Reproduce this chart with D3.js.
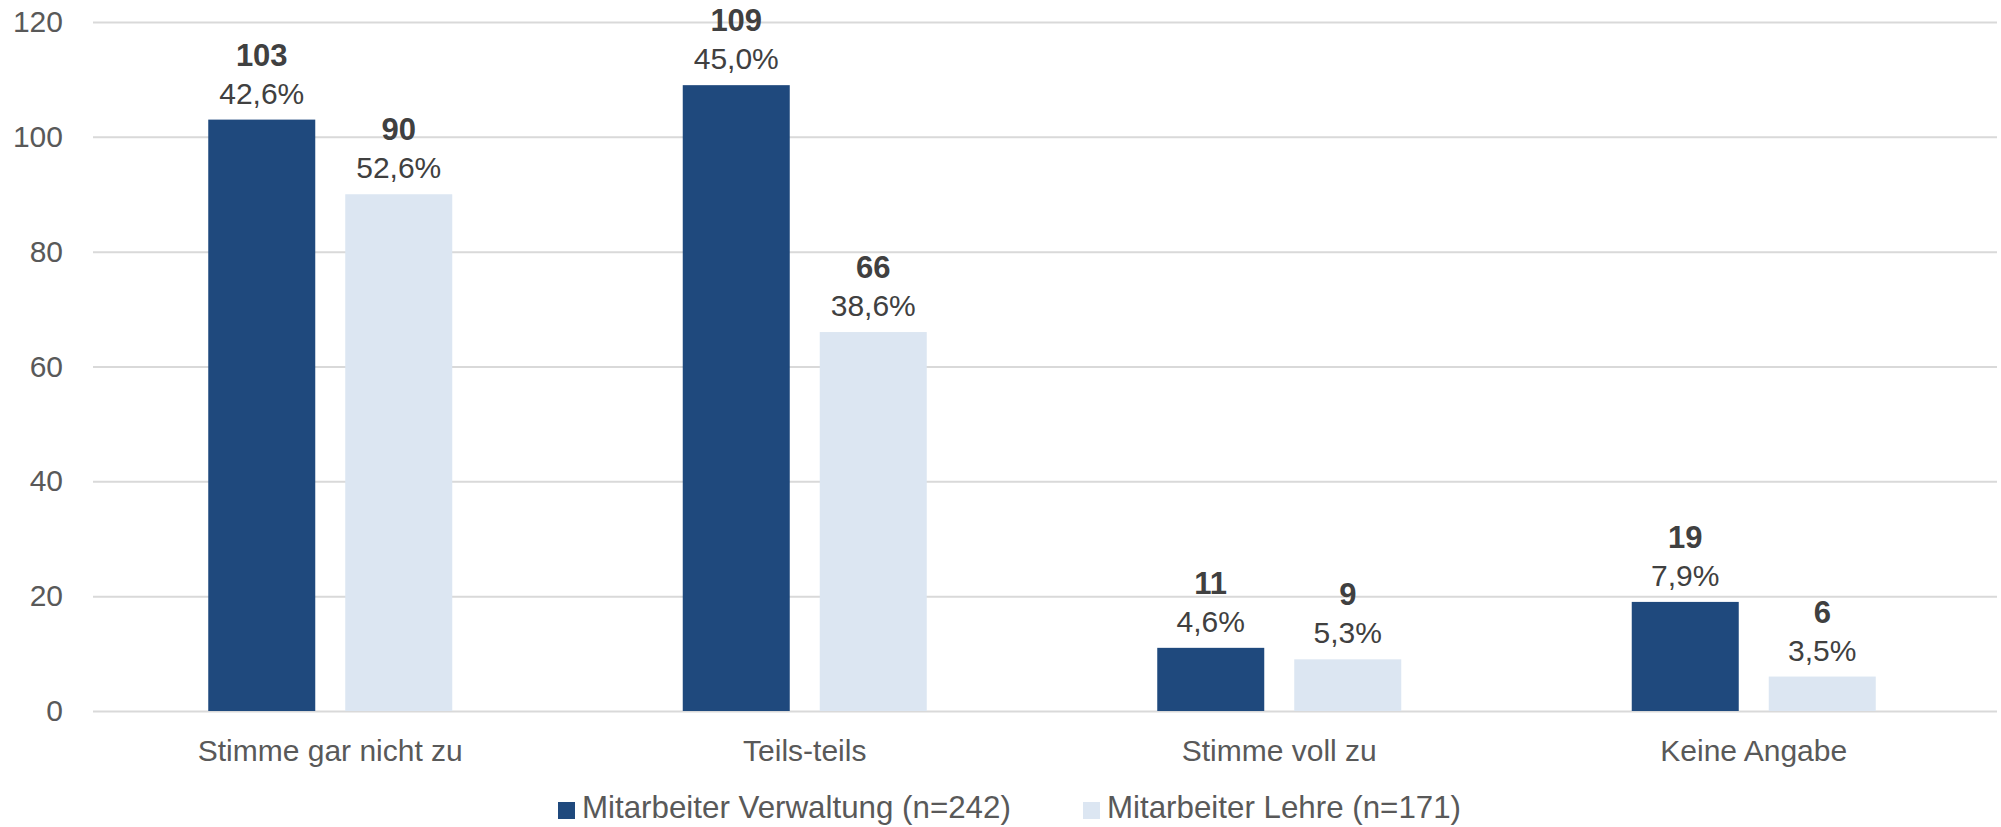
<!DOCTYPE html>
<html>
<head>
<meta charset="utf-8">
<script src="https://cdn.jsdelivr.net/npm/d3@7"></script>
<style>
  body { margin: 0; background: #fff; }
  svg text { font-family: "Liberation Sans", Arial, sans-serif; }
</style>
</head>
<body>
<div id="chart"></div>
<script>
const categories = ["Stimme gar nicht zu", "Teils-teils", "Stimme voll zu", "Keine Angabe"]
const seriesNames = ["Mitarbeiter Verwaltung (n=242)", "Mitarbeiter Lehre (n=171)"]
const verwaltung = [103, 109, 11, 19]
const verwaltungPct = ["42,6%", "45,0%", "4,6%", "7,9%"]
const lehre = [90, 66, 9, 6]
const lehrePct = ["52,6%", "38,6%", "5,3%", "3,5%"]
const yTicks = [0, 20, 40, 60, 80, 100, 120]

const COLORS = ["#1f497d", "#dce6f2"]
const W = 2001, H = 827
const MARGIN = { TOP: 22, LEFT: 93, RIGHT: 4, BOTTOM: 116 }
const PLOT_RIGHT = 1991

const svg = d3.select("#chart").append("svg")
    .attr("width", W)
    .attr("height", H)

const x0 = d3.scaleBand()
    .domain(categories)
    .range([MARGIN.LEFT, PLOT_RIGHT])

const y = d3.scaleLinear()
    .domain([0, 120])
    .range([H - MARGIN.BOTTOM, MARGIN.TOP])

// grid + y axis
const yAxis = svg.append("g")
    .attr("transform", `translate(${MARGIN.LEFT},0)`)
    .call(d3.axisLeft(y).tickValues(yTicks)
        .tickSize(-(W - MARGIN.LEFT - MARGIN.RIGHT))
        .tickPadding(30))
yAxis.select(".domain").remove()
yAxis.selectAll("line").attr("stroke", "#d9d9d9").attr("stroke-width", 2)
yAxis.selectAll("text").attr("font-size", 30).attr("fill", "#595959")

// x axis labels
const xAxis = svg.append("g")
    .attr("transform", `translate(0,${y(0)})`)
    .call(d3.axisBottom(x0).tickSize(0).tickPadding(29))
xAxis.select(".domain").remove()
xAxis.selectAll("text").attr("font-size", 30).attr("fill", "#595959")

const rows = categories.map((c, i) => ({
    cat: c,
    vals: [
        { s: 0, v: verwaltung[i], p: verwaltungPct[i] },
        { s: 1, v: lehre[i], p: lehrePct[i] }
    ]
}))

const groupW = 244
const x1 = d3.scaleBand()
    .domain([0, 1])
    .range([0, groupW])
    .paddingInner(0.219)

const groups = svg.append("g").selectAll("g")
    .data(rows)
    .join("g")
    .attr("transform", d => `translate(${x0(d.cat) + x0.bandwidth() / 2 - groupW / 2},0)`)

groups.selectAll("rect")
    .data(d => d.vals)
    .join("rect")
    .attr("x", d => x1(d.s))
    .attr("width", x1.bandwidth())
    .attr("y", d => y(d.v))
    .attr("height", d => y(0) - y(d.v))
    .attr("fill", d => COLORS[d.s])

groups.selectAll("text.num")
    .data(d => d.vals)
    .join("text")
    .attr("class", "num")
    .attr("x", d => x1(d.s) + x1.bandwidth() / 2)
    .attr("y", d => y(d.v) - 54)
    .attr("text-anchor", "middle")
    .attr("font-size", 31)
    .attr("font-weight", "bold")
    .attr("fill", "#404040")
    .text(d => d.v)

groups.selectAll("text.pct")
    .data(d => d.vals)
    .join("text")
    .attr("class", "pct")
    .attr("x", d => x1(d.s) + x1.bandwidth() / 2)
    .attr("y", d => y(d.v) - 16)
    .attr("text-anchor", "middle")
    .attr("font-size", 30)
    .attr("fill", "#404040")
    .text(d => d.p)

// legend
const legendX = [558, 1083]
const legend = svg.append("g").selectAll("g")
    .data(seriesNames)
    .join("g")
    .attr("transform", (d, i) => `translate(${legendX[i]},802)`)

legend.append("rect")
    .attr("width", 17)
    .attr("height", 17)
    .attr("fill", (d, i) => COLORS[i])

legend.append("text")
    .attr("x", 24)
    .attr("y", 16)
    .attr("font-size", 31.3)
    .attr("fill", "#595959")
    .text(d => d)
</script>
</body>
</html>
